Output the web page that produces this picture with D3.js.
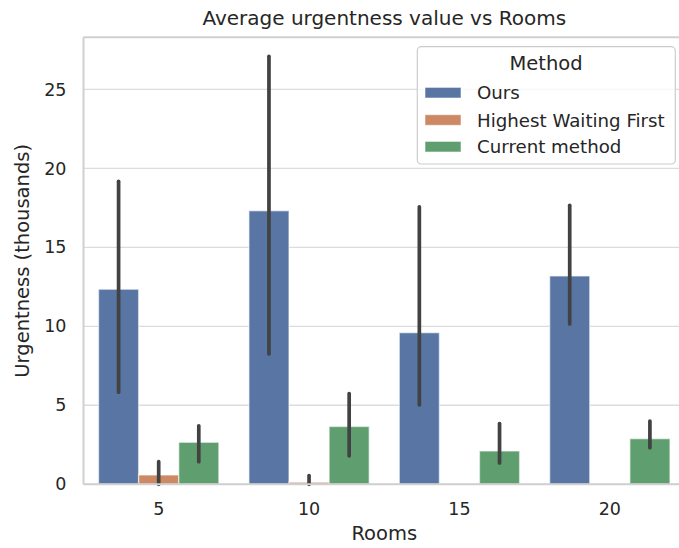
<!DOCTYPE html>
<html>
<head>
<meta charset="utf-8">
<script src="https://cdn.jsdelivr.net/npm/d3@7"></script>
<style>
  html, body { margin: 0; padding: 0; background: #fff; }
  svg { display: block; font-family: "DejaVu Sans", sans-serif; }
</style>
</head>
<body>
<svg id="chart" width="679" height="548"></svg>
<script>
// Room counts on the x axis
const rooms = ["5", "10", "15", "20"];
// Scheduling methods (hue)
const methods = ["Ours", "Highest Waiting First", "Current method"];
const methodColors = ["#5875a4", "#cc8963", "#5f9e6e"];

// Mean urgentness (thousands) per room count, one array per method
const oursMean    = [12.35, 17.32, 9.60, 13.19];
const hwfMean     = [0.59, 0.13, 0.0, 0.0];
const currentMean = [2.66, 3.66, 2.11, 2.89];

// 95% confidence interval bounds
const oursLow     = [5.83, 8.25, 5.03, 10.15];
const oursHigh    = [19.18, 27.10, 17.57, 17.66];
const hwfLow      = [0.0, 0.0, 0.0, 0.0];
const hwfHigh     = [1.43, 0.55, 0.0, 0.0];
const currentLow  = [1.43, 1.80, 1.35, 2.32];
const currentHigh = [3.70, 5.75, 3.85, 4.00];

const yTicks = [0, 5, 10, 15, 20, 25];

const means = [oursMean, hwfMean, currentMean];
const lows = [oursLow, hwfLow, currentLow];
const highs = [oursHigh, hwfHigh, currentHigh];

const svg = d3.select("#chart");
const plotLeft = 83.5, plotRight = 685, plotTop = 37.3, plotBottom = 484.3;
const textColor = "#262626";
const gridColor = "#dcdcdc";
const spineColor = "#d0d0d0";

const x = d3.scaleBand().domain(rooms).range([plotLeft, plotRight])
  .paddingInner(0.2).paddingOuter(0.1);
const xHue = d3.scaleBand().domain(methods).range([0, x.bandwidth()]).padding(0);
const y = d3.scaleLinear().domain([0, 28.3]).range([plotBottom, plotTop]);

// Horizontal grid lines
svg.append("g").selectAll("line").data(yTicks).join("line")
  .attr("x1", plotLeft).attr("x2", plotRight)
  .attr("y1", d => y(d)).attr("y2", d => y(d))
  .attr("stroke", gridColor).attr("stroke-width", 1.4);

// Bars
const rows = [];
methods.forEach((m, i) => rooms.forEach((r, j) => rows.push({
  room: r, method: m, color: methodColors[i],
  mean: means[i][j], low: lows[i][j], high: highs[i][j]
})));

svg.append("g").selectAll("rect").data(rows).join("rect")
  .attr("x", d => x(d.room) + xHue(d.method))
  .attr("width", xHue.bandwidth())
  .attr("y", d => y(d.mean))
  .attr("height", d => y(0) - y(d.mean))
  .attr("fill", d => d.color)
  .attr("stroke", "#ffffff").attr("stroke-opacity", 0.55).attr("stroke-width", 1.4);

// Error bars
svg.append("g").selectAll("line").data(rows.filter(d => d.high > d.low)).join("line")
  .attr("x1", d => x(d.room) + xHue(d.method) + xHue.bandwidth() / 2)
  .attr("x2", d => x(d.room) + xHue(d.method) + xHue.bandwidth() / 2)
  .attr("y1", d => y(d.low)).attr("y2", d => y(d.high))
  .attr("stroke", "#424242").attr("stroke-width", 3.7).attr("stroke-linecap", "round");

// Spines (the right one lies past the figure edge)
const spines = svg.append("g").attr("stroke", spineColor).attr("stroke-width", 2).attr("fill", "none");
spines.append("line").attr("x1", plotLeft).attr("x2", plotLeft).attr("y1", plotTop).attr("y2", plotBottom);
spines.append("line").attr("x1", plotLeft).attr("x2", plotRight).attr("y1", plotTop).attr("y2", plotTop);
spines.append("line").attr("x1", plotLeft).attr("x2", plotRight).attr("y1", plotBottom).attr("y2", plotBottom);
spines.append("line").attr("x1", plotRight).attr("x2", plotRight).attr("y1", plotTop).attr("y2", plotBottom);

// Axes
const xAxis = svg.append("g").attr("transform", `translate(0,${plotBottom})`)
  .call(d3.axisBottom(x).tickSize(0).tickPadding(18));
const yAxis = svg.append("g").attr("transform", `translate(${plotLeft},0)`)
  .call(d3.axisLeft(y).tickValues(yTicks).tickSize(0).tickPadding(17));
[xAxis, yAxis].forEach(a => {
  a.select(".domain").remove();
  a.selectAll("text").attr("fill", textColor).attr("font-size", 17.5)
    .attr("font-family", "DejaVu Sans, sans-serif");
});

// Title and axis labels
svg.append("text").attr("x", (plotLeft + plotRight) / 2).attr("y", 25)
  .attr("text-anchor", "middle").attr("font-size", 20).attr("fill", textColor)
  .text("Average urgentness value vs Rooms");
svg.append("text").attr("x", (plotLeft + plotRight) / 2).attr("y", 540)
  .attr("text-anchor", "middle").attr("font-size", 19.5).attr("fill", textColor)
  .text("Rooms");
svg.append("text")
  .attr("transform", `translate(29,${(plotTop + plotBottom) / 2}) rotate(-90)`)
  .attr("text-anchor", "middle").attr("font-size", 19.5).attr("fill", textColor)
  .text("Urgentness (thousands)");

// Legend
const legend = svg.append("g");
legend.append("rect").attr("x", 417.3).attr("y", 46.7).attr("width", 258).attr("height", 117.3)
  .attr("rx", 4).attr("fill", "#ffffff").attr("fill-opacity", 0.8)
  .attr("stroke", "#cccccc").attr("stroke-width", 1.2);
legend.append("text").attr("x", 546).attr("y", 69.5).attr("text-anchor", "middle")
  .attr("font-size", 19.5).attr("fill", textColor).text("Method");
const entryY = [92.7, 120, 146.7];
methods.forEach((m, i) => {
  legend.append("rect").attr("x", 425).attr("y", entryY[i] - 5.3)
    .attr("width", 36).attr("height", 10.6).attr("fill", methodColors[i])
    .attr("stroke", "#ffffff").attr("stroke-opacity", 0.55).attr("stroke-width", 1);
  legend.append("text").attr("x", 477).attr("y", entryY[i] + 6.5)
    .attr("font-size", 18.2).attr("fill", textColor).text(m);
});
</script>
</body>
</html>
